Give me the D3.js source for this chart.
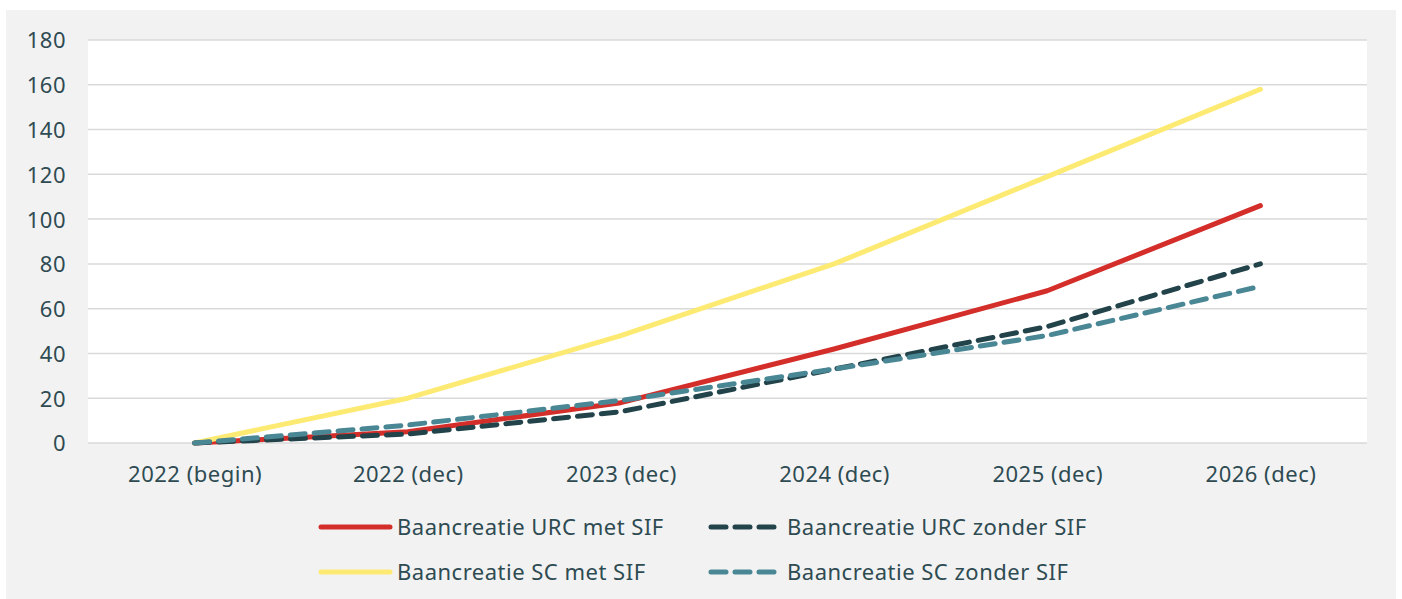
<!DOCTYPE html>
<html>
<head>
<meta charset="utf-8">
<script src="https://cdn.jsdelivr.net/npm/d3@7"></script>
<style>
  body { margin: 0; background: #fff; }
  text { font-family: "Noto Sans", sans-serif; fill: #2e4b52; letter-spacing: 0.5px; }
</style>
</head>
<body>
<div id="chart"></div>
<script>
// categories on the x axis
const categories = ["2022 (begin)", "2022 (dec)", "2023 (dec)", "2024 (dec)", "2025 (dec)", "2026 (dec)"];

// series values
const urcMetSif = [0, 5, 18, 42, 68, 106];
const scMetSif = [0, 20, 48, 80, 119, 158];
const urcZonderSif = [0, 4, 14, 33, 52, 80];
const scZonderSif = [0, 8, 19, 33, 48, 70];

const yTicks = [0, 20, 40, 60, 80, 100, 120, 140, 160, 180];

const seriesNames = [
    "Baancreatie URC met SIF",
    "Baancreatie URC zonder SIF",
    "Baancreatie SC met SIF",
    "Baancreatie SC zonder SIF"
];

const width = 1402, height = 599;
const plot = { left: 88, right: 1367, top: 40, bottom: 443 };
const fontSize = 22;

const svg = d3.select("#chart")
    .append("svg")
    .attr("width", width)
    .attr("height", height);

// grey card
svg.append("rect")
    .attr("x", 6).attr("y", 10)
    .attr("width", 1390).attr("height", 589)
    .attr("fill", "#f2f2f2");

// white plot area
svg.append("rect")
    .attr("x", plot.left).attr("y", plot.top)
    .attr("width", plot.right - plot.left).attr("height", plot.bottom - plot.top)
    .attr("fill", "#fff");

const x = d3.scalePoint()
    .domain(categories)
    .range([plot.left, plot.right])
    .padding(0.5);

const y = d3.scaleLinear()
    .domain([0, 180])
    .range([plot.bottom, plot.top]);

// gridlines
svg.append("g")
    .selectAll("line")
    .data(yTicks)
    .enter()
    .append("line")
    .attr("x1", plot.left).attr("x2", plot.right)
    .attr("y1", d => y(d)).attr("y2", d => y(d))
    .attr("stroke", "#d9d9d9")
    .attr("stroke-width", 1.5);

// y axis
const yAxis = svg.append("g")
    .attr("transform", "translate(" + (plot.left - 22) + ",0)")
    .call(d3.axisLeft(y).tickValues(yTicks).tickSize(0).tickPadding(0));
yAxis.select(".domain").remove();
yAxis.selectAll("text")
    .attr("font-size", fontSize)
    .attr("dy", "0.36em")
    .style("font-family", "'Noto Sans', sans-serif")
    .attr("fill", "#2e4b52");

// x axis
const xAxis = svg.append("g")
    .attr("transform", "translate(0," + plot.bottom + ")")
    .call(d3.axisBottom(x).tickSize(0).tickPadding(23));
xAxis.select(".domain").remove();
xAxis.selectAll("text")
    .attr("font-size", fontSize)
    .style("font-family", "'Noto Sans', sans-serif")
    .attr("fill", "#2e4b52");

const series = [
    { name: seriesNames[0], values: urcMetSif, color: "#d42e2a", dash: null },
    { name: seriesNames[2], values: scMetSif, color: "#fdea72", dash: null },
    { name: seriesNames[1], values: urcZonderSif, color: "#22434a", dash: "15,9" },
    { name: seriesNames[3], values: scZonderSif, color: "#4a8795", dash: "15,9" }
];

const line = d3.line()
    .x((d, i) => x(categories[i]))
    .y(d => y(d));

svg.append("g")
    .selectAll("path")
    .data(series)
    .enter()
    .append("path")
    .attr("d", d => line(d.values))
    .attr("fill", "none")
    .attr("stroke", d => d.color)
    .attr("stroke-width", 5)
    .attr("stroke-linecap", "round")
    .attr("stroke-linejoin", "round")
    .attr("stroke-dasharray", d => d.dash);

// legend
const legendItems = [
    { s: series[0], x: 321, y: 527 },
    { s: series[2], x: 711, y: 527 },
    { s: series[1], x: 321, y: 572 },
    { s: series[3], x: 711, y: 572 }
];

const lg = svg.append("g")
    .selectAll("g")
    .data(legendItems)
    .enter()
    .append("g")
    .attr("transform", d => "translate(" + d.x + "," + d.y + ")");

lg.append("line")
    .attr("x1", 0).attr("x2", d => d.s.dash ? 64 : 69)
    .attr("y1", 0).attr("y2", 0)
    .attr("stroke", d => d.s.color)
    .attr("stroke-width", 5)
    .attr("stroke-linecap", "round")
    .attr("stroke-dasharray", d => d.s.dash ? "15,9" : null);

lg.append("text")
    .attr("x", 76)
    .attr("y", 0)
    .attr("dy", "0.36em")
    .attr("font-size", fontSize)
    .text(d => d.s.name);
</script>
</body>
</html>
